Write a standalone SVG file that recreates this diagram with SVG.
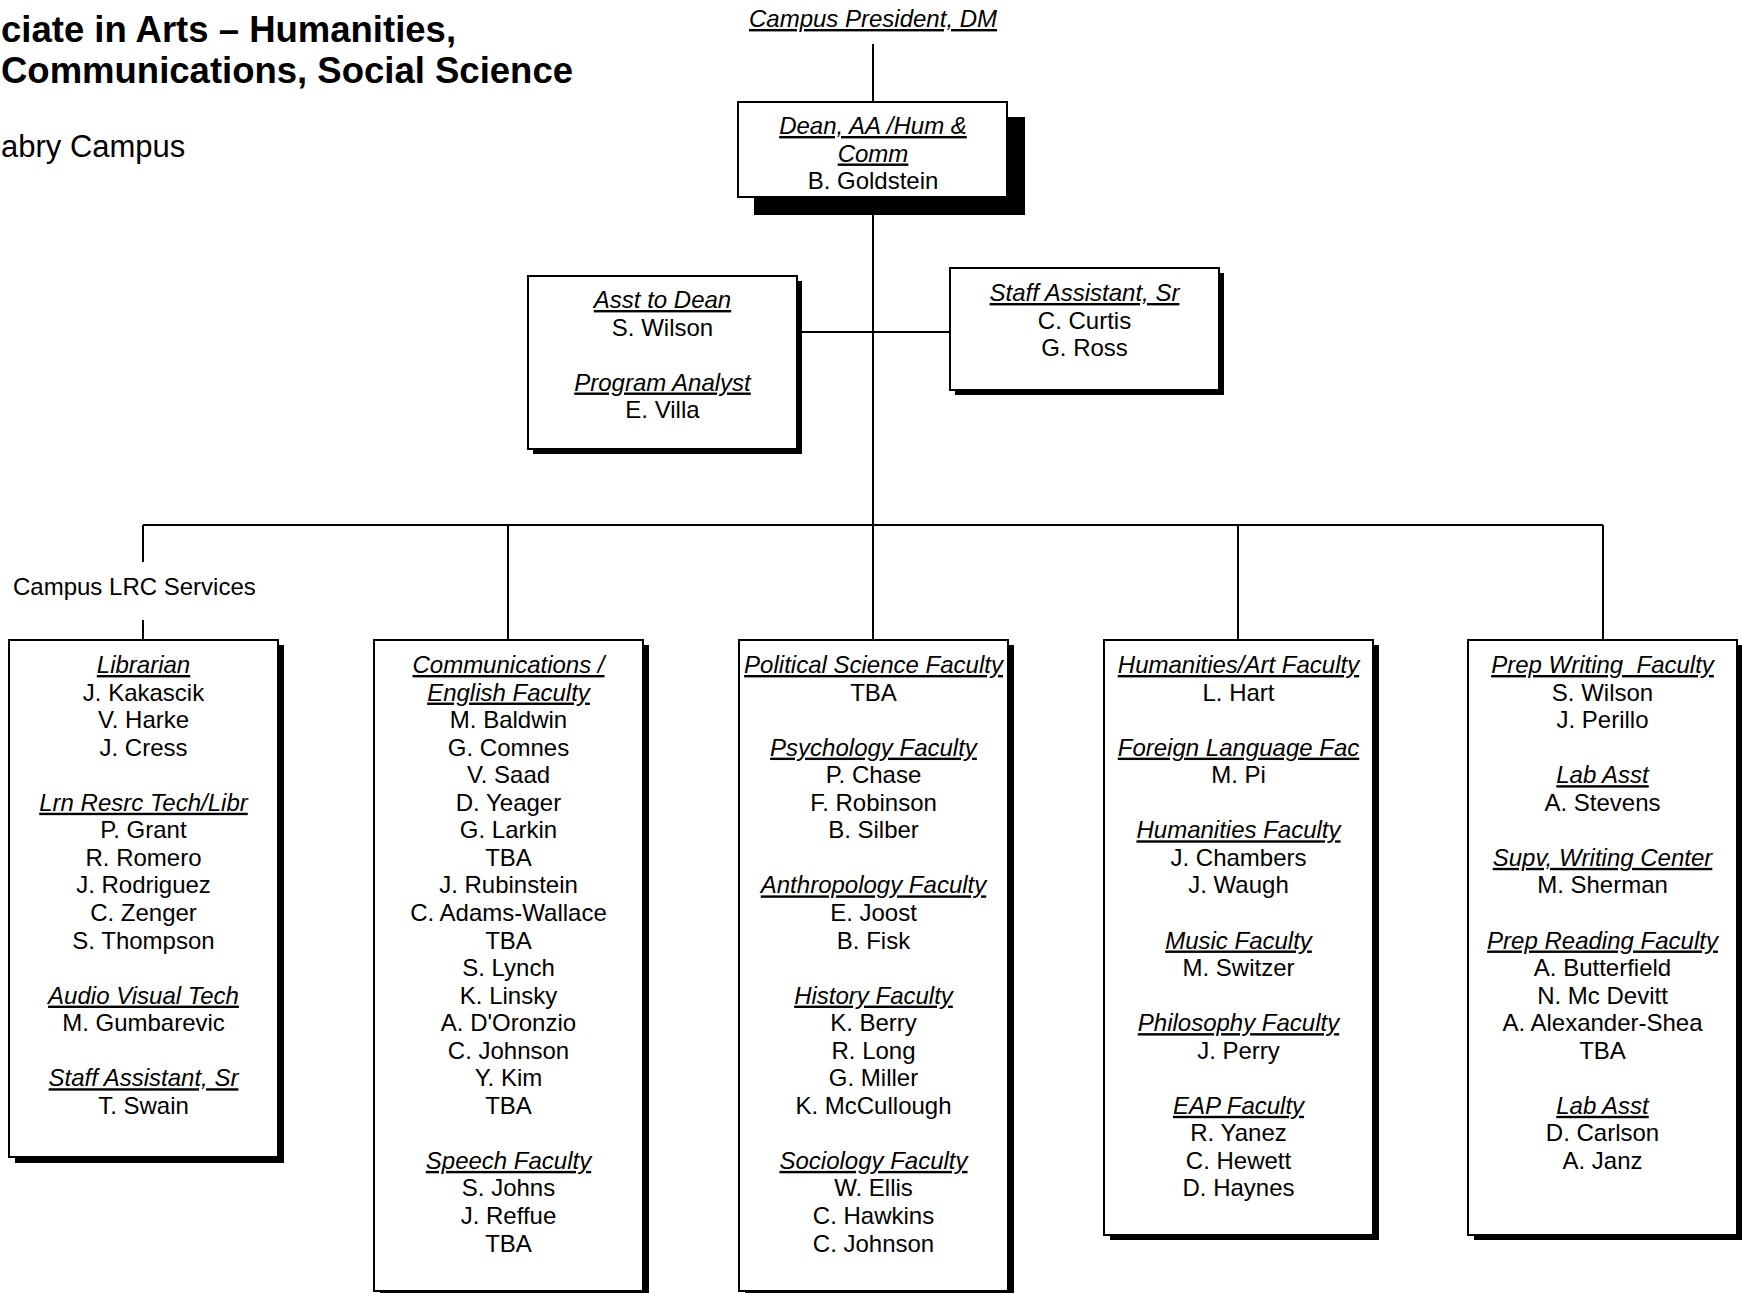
<svg xmlns="http://www.w3.org/2000/svg" width="1742" height="1293" viewBox="0 0 1742 1293">
<style>
.box{fill:#fff;stroke:#000;stroke-width:2}
.sh{fill:#000}
.t{font-family:"Liberation Sans",Arial,sans-serif;font-size:24px;text-anchor:middle;fill:#000}
.h{font-style:italic;text-decoration:underline}
.ln{stroke:#000;stroke-width:2;fill:none}
.title{font-family:"Liberation Sans",Arial,sans-serif;font-weight:bold;font-size:36.5px;fill:#000}
.sub{font-family:"Liberation Sans",Arial,sans-serif;font-size:31px;fill:#000}
</style>
<rect width="1742" height="1293" fill="#fff"/>
<g id="title">
<text class="title" x="1" y="42">ciate in Arts – Humanities,</text>
<text class="title" x="1" y="83">Communications, Social Science</text>
<text class="sub" x="1" y="157">abry Campus</text>
</g>
<g id="connectors">
<path class="ln" d="M873,44V102M873,197V525M797,332H950M143,525H1603M143,525V562M143,620V640M508,525V640M873,525V640M1238,525V640M1603,525V640"/>
</g>
<g id="president">
<text class="t h" x="873" y="27">Campus President, DM</text>
</g>
<g id="dean">
<rect class="sh" x="754" y="117" width="271" height="98"/>
<rect class="box" x="738" y="102" width="269" height="95"/>
<text class="t"><tspan class="h" x="873" y="134">Dean, AA /Hum &amp;</tspan><tspan class="h" x="873" dy="27.5">Comm</tspan><tspan x="873" dy="27.5">B. Goldstein</tspan></text>
</g>
<g id="asst">
<rect class="sh" x="533" y="281" width="269" height="173"/>
<rect class="box" x="528" y="276" width="269" height="173"/>
<text class="t"><tspan class="h" x="662.5" y="308">Asst to Dean</tspan><tspan x="662.5" dy="27.5">S. Wilson</tspan><tspan class="h" x="662.5" dy="55">Program Analyst</tspan><tspan x="662.5" dy="27.5">E. Villa</tspan></text>
</g>
<g id="staff">
<rect class="sh" x="955" y="273" width="269" height="122"/>
<rect class="box" x="950" y="268" width="269" height="122"/>
<text class="t"><tspan class="h" x="1084.5" y="301">Staff Assistant, Sr</tspan><tspan x="1084.5" dy="27.5">C. Curtis</tspan><tspan x="1084.5" dy="27.5">G. Ross</tspan></text>
</g>
<g id="lrc-label">
<text class="t" x="13" y="595" style="text-anchor:start">Campus LRC Services</text>
</g>
<g id="lrc">
<rect class="sh" x="15" y="645" width="269" height="518"/>
<rect class="box" x="9" y="640" width="269" height="517"/>
<text class="t"><tspan class="h" x="143.5" y="673">Librarian</tspan><tspan x="143.5" dy="27.55">J. Kakascik</tspan><tspan x="143.5" dy="27.55">V. Harke</tspan><tspan x="143.5" dy="27.55">J. Cress</tspan><tspan class="h" x="143.5" dy="55.1">Lrn Resrc Tech/Libr</tspan><tspan x="143.5" dy="27.55">P. Grant</tspan><tspan x="143.5" dy="27.55">R. Romero</tspan><tspan x="143.5" dy="27.55">J. Rodriguez</tspan><tspan x="143.5" dy="27.55">C. Zenger</tspan><tspan x="143.5" dy="27.55">S. Thompson</tspan><tspan class="h" x="143.5" dy="55.1">Audio Visual Tech</tspan><tspan x="143.5" dy="27.55">M. Gumbarevic</tspan><tspan class="h" x="143.5" dy="55.1">Staff Assistant, Sr</tspan><tspan x="143.5" dy="27.55">T. Swain</tspan></text>
</g>
<g id="comm">
<rect class="sh" x="380" y="645" width="269" height="660"/>
<rect class="box" x="374" y="640" width="269" height="651"/>
<text class="t"><tspan class="h" x="508.5" y="673">Communications /</tspan><tspan class="h" x="508.5" dy="27.55">English Faculty</tspan><tspan x="508.5" dy="27.55">M. Baldwin</tspan><tspan x="508.5" dy="27.55">G. Comnes</tspan><tspan x="508.5" dy="27.55">V. Saad</tspan><tspan x="508.5" dy="27.55">D. Yeager</tspan><tspan x="508.5" dy="27.55">G. Larkin</tspan><tspan x="508.5" dy="27.55">TBA</tspan><tspan x="508.5" dy="27.55">J. Rubinstein</tspan><tspan x="508.5" dy="27.55">C. Adams-Wallace</tspan><tspan x="508.5" dy="27.55">TBA</tspan><tspan x="508.5" dy="27.55">S. Lynch</tspan><tspan x="508.5" dy="27.55">K. Linsky</tspan><tspan x="508.5" dy="27.55">A. D'Oronzio</tspan><tspan x="508.5" dy="27.55">C. Johnson</tspan><tspan x="508.5" dy="27.55">Y. Kim</tspan><tspan x="508.5" dy="27.55">TBA</tspan><tspan class="h" x="508.5" dy="55.1">Speech Faculty</tspan><tspan x="508.5" dy="27.55">S. Johns</tspan><tspan x="508.5" dy="27.55">J. Reffue</tspan><tspan x="508.5" dy="27.55">TBA</tspan></text>
</g>
<g id="social">
<rect class="sh" x="745" y="645" width="269" height="660"/>
<rect class="box" x="739" y="640" width="269" height="651"/>
<text class="t"><tspan class="h" x="873.5" y="673">Political Science Faculty</tspan><tspan x="873.5" dy="27.55">TBA</tspan><tspan class="h" x="873.5" dy="55.1">Psychology Faculty</tspan><tspan x="873.5" dy="27.55">P. Chase</tspan><tspan x="873.5" dy="27.55">F. Robinson</tspan><tspan x="873.5" dy="27.55">B. Silber</tspan><tspan class="h" x="873.5" dy="55.1">Anthropology Faculty</tspan><tspan x="873.5" dy="27.55">E. Joost</tspan><tspan x="873.5" dy="27.55">B. Fisk</tspan><tspan class="h" x="873.5" dy="55.1">History Faculty</tspan><tspan x="873.5" dy="27.55">K. Berry</tspan><tspan x="873.5" dy="27.55">R. Long</tspan><tspan x="873.5" dy="27.55">G. Miller</tspan><tspan x="873.5" dy="27.55">K. McCullough</tspan><tspan class="h" x="873.5" dy="55.1">Sociology Faculty</tspan><tspan x="873.5" dy="27.55">W. Ellis</tspan><tspan x="873.5" dy="27.55">C. Hawkins</tspan><tspan x="873.5" dy="27.55">C. Johnson</tspan></text>
</g>
<g id="humanities">
<rect class="sh" x="1110" y="645" width="269" height="595"/>
<rect class="box" x="1104" y="640" width="269" height="595"/>
<text class="t"><tspan class="h" x="1238.5" y="673">Humanities/Art Faculty</tspan><tspan x="1238.5" dy="27.55">L. Hart</tspan><tspan class="h" x="1238.5" dy="55.1">Foreign Language Fac</tspan><tspan x="1238.5" dy="27.55">M. Pi</tspan><tspan class="h" x="1238.5" dy="55.1">Humanities Faculty</tspan><tspan x="1238.5" dy="27.55">J. Chambers</tspan><tspan x="1238.5" dy="27.55">J. Waugh</tspan><tspan class="h" x="1238.5" dy="55.1">Music Faculty</tspan><tspan x="1238.5" dy="27.55">M. Switzer</tspan><tspan class="h" x="1238.5" dy="55.1">Philosophy Faculty</tspan><tspan x="1238.5" dy="27.55">J. Perry</tspan><tspan class="h" x="1238.5" dy="55.1">EAP Faculty</tspan><tspan x="1238.5" dy="27.55">R. Yanez</tspan><tspan x="1238.5" dy="27.55">C. Hewett</tspan><tspan x="1238.5" dy="27.55">D. Haynes</tspan></text>
</g>
<g id="prep">
<rect class="sh" x="1474" y="645" width="269" height="595"/>
<rect class="box" x="1468" y="640" width="269" height="595"/>
<text class="t" xml:space="preserve"><tspan class="h" x="1602.5" y="673">Prep Writing  Faculty</tspan><tspan x="1602.5" dy="27.55">S. Wilson</tspan><tspan x="1602.5" dy="27.55">J. Perillo</tspan><tspan class="h" x="1602.5" dy="55.1">Lab Asst</tspan><tspan x="1602.5" dy="27.55">A. Stevens</tspan><tspan class="h" x="1602.5" dy="55.1">Supv, Writing Center</tspan><tspan x="1602.5" dy="27.55">M. Sherman</tspan><tspan class="h" x="1602.5" dy="55.1">Prep Reading Faculty</tspan><tspan x="1602.5" dy="27.55">A. Butterfield</tspan><tspan x="1602.5" dy="27.55">N. Mc Devitt</tspan><tspan x="1602.5" dy="27.55">A. Alexander-Shea</tspan><tspan x="1602.5" dy="27.55">TBA</tspan><tspan class="h" x="1602.5" dy="55.1">Lab Asst</tspan><tspan x="1602.5" dy="27.55">D. Carlson</tspan><tspan x="1602.5" dy="27.55">A. Janz</tspan></text>
</g>
</svg>
